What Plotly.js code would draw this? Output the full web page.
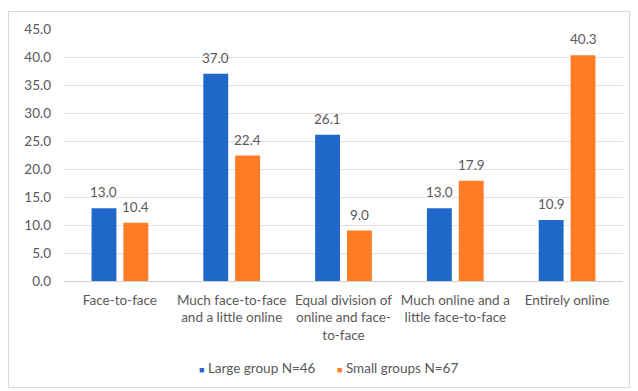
<!DOCTYPE html>
<html>
<head>
<meta charset="utf-8">
<script src="https://cdn.plot.ly/plotly-3.0.1.min.js"></script>
<style>
  html, body { margin: 0; padding: 0; background: #ffffff; }
  #frame {
    position: absolute; left: 8px; top: 11px;
    width: 620px; height: 375px;
    border: 1px solid #d9d9d9; background: #ffffff;
  }
  #chart { width: 620px; height: 375px; }
</style>
</head>
<body>
<div id="frame"><div id="chart"></div></div>
<script>
// Preferred teaching format, percentage of respondents per group
const categories = [
  "Face-to-face",
  "Much face-to-face<br>and a little online",
  "Equal division of<br>online and face-<br>to-face",
  "Much online and a<br>little face-to-face",
  "Entirely online"
];
const largeGroup = [13.0, 37.0, 26.1, 13.0, 10.9];
const smallGroups = [10.4, 22.4, 9.0, 17.9, 40.3];
const seriesNames = ["Large group N=46", "Small groups N=67"];
const yTicks = [0, 5, 10, 15, 20, 25, 30, 35, 40, 45];

const blue = "#1f67c9";
const orange = "#ff7b24";
const colors = [blue, orange];
const textGray = "#595959";
const fontFamily = "Lato, 'Open Sans', sans-serif";
const fontSize = 13.5;

const traces = [largeGroup, smallGroups].map((vals, s) => ({
  type: "bar", name: seriesNames[s], x: categories, y: vals,
  marker: { color: colors[s] }, hoverinfo: "none", showlegend: false
}));

// value labels above each bar, offset to the bar's slot in its group
const annotations = [];
[largeGroup, smallGroups].forEach((vals, s) => {
  vals.forEach((v, i) => {
    annotations.push({
      x: categories[i], y: v, xref: "x", yref: "y",
      text: v.toFixed(1), showarrow: false,
      yanchor: "bottom", yshift: 6, xshift: s === 0 ? -16 : 16,
      font: { family: fontFamily, size: fontSize, color: textGray }
    });
  });
});

// compact legend row under the category labels: small square + series name
const legendX = [0.238, 0.485];
seriesNames.forEach((name, s) => {
  annotations.push({
    xref: "paper", yref: "paper", x: legendX[s], y: -0.345,
    xanchor: "left", yanchor: "middle", showarrow: false,
    text: `<span style="color:${colors[s]};font-size:9px">■</span> ${name}`,
    font: { family: fontFamily, size: fontSize, color: textGray }
  });
});

const layout = {
  width: 620, height: 375,
  margin: { l: 55, r: 6, t: 17, b: 106 },
  paper_bgcolor: "#ffffff", plot_bgcolor: "#ffffff",
  font: { family: fontFamily, size: fontSize, color: textGray },
  barmode: "group",
  bargap: 0.43,
  bargroupgap: 0.22,
  showlegend: false,
  xaxis: {
    type: "category", tickfont: { family: fontFamily, size: fontSize, color: textGray },
    showgrid: false, showline: false, zeroline: false,
    ticks: "", ticklabelstandoff: 9, fixedrange: true
  },
  yaxis: {
    range: [0, 45], tickvals: yTicks, tickformat: ".1f",
    tickfont: { family: fontFamily, size: fontSize, color: textGray },
    showgrid: true, gridcolor: "#e0e0e0", gridwidth: 1,
    zeroline: true, zerolinecolor: "#d0d0d0", zerolinewidth: 1,
    showline: false, ticks: "", ticklabelstandoff: 12, fixedrange: true
  },
  annotations: annotations
};

Plotly.newPlot("chart", traces, layout, { displayModeBar: false, staticPlot: true });
</script>
</body>
</html>
